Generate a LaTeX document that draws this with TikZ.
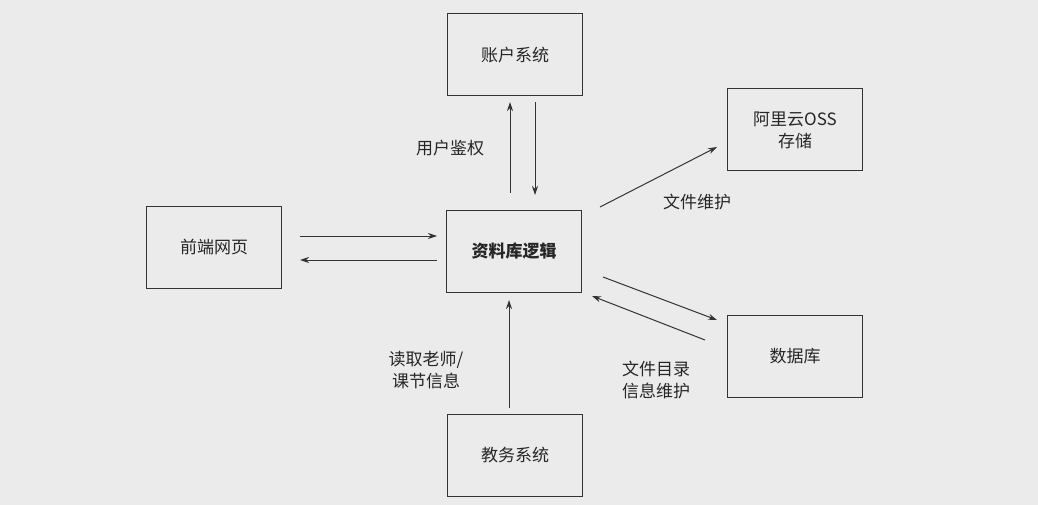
\documentclass[tikz,border=0pt]{standalone}
\usepackage{fontspec}
\usetikzlibrary{arrows.meta}
\setmainfont{Liberation Serif}
\newfontfamily\cjk{Noto Sans CJK SC}
\begin{document}
\begin{tikzpicture}[x=1pt,y=-1pt,
  box/.style={draw=black!80,line width=1pt,minimum width=135pt,minimum height=82pt,font=\cjk\fontsize{17}{22}\selectfont,align=center,text=black!85},
  arr/.style={-{Stealth[length=9pt,width=6pt]},line width=1pt,draw=black!80},
  lab/.style={font=\cjk\fontsize{17}{22}\selectfont,align=center,text=black!85}]
\fill[black!8] (0,0) rectangle (1038,505);
\useasboundingbox (0,0) rectangle (1038,505);
\node[box] (acc) at (515,55) {账户系统};
\node[box] (oss) at (795,130) {阿里云OSS\\存储};
\node[box] (web) at (214,247) {前端网页};
\node[box,font=\cjk\bfseries\fontsize{17}{22}\selectfont] (lib) at (514,251) {资料库逻辑};
\node[box] (db) at (795,356) {数据库};
\node[box] (edu) at (515,455) {教务系统};
\coordinate (a1) at (510,193); \coordinate (a2) at (510,102);
\coordinate (b1) at (535,102); \coordinate (b2) at (535,195);
\draw[arr] (a1) -- (a2);
\draw[arr] (b1) -- (b2);
\coordinate (c1) at (300,236); \coordinate (c2) at (437,236);
\coordinate (d1) at (437,260); \coordinate (d2) at (300,260);
\draw[arr] (c1) -- (c2);
\draw[arr] (d1) -- (d2);
\coordinate (e1) at (600,207); \coordinate (e2) at (717,147);
\draw[arr] (e1) -- (e2);
\coordinate (f1) at (603,277); \coordinate (f2) at (717,320);
\coordinate (g1) at (705,340); \coordinate (g2) at (592,296);
\draw[arr] (f1) -- (f2);
\draw[arr] (g1) -- (g2);
\coordinate (h1) at (509,408); \coordinate (h2) at (509,300);
\draw[arr] (h1) -- (h2);
\node[lab] (l1) at (450,148) {用户鉴权};
\node[lab] (l2) at (697,202) {文件维护};
\node[lab] (l3) at (426,370) {读取老师/\\课节信息};
\node[lab] (l4) at (656,380) {文件目录\\信息维护};
\end{tikzpicture}
\end{document}
